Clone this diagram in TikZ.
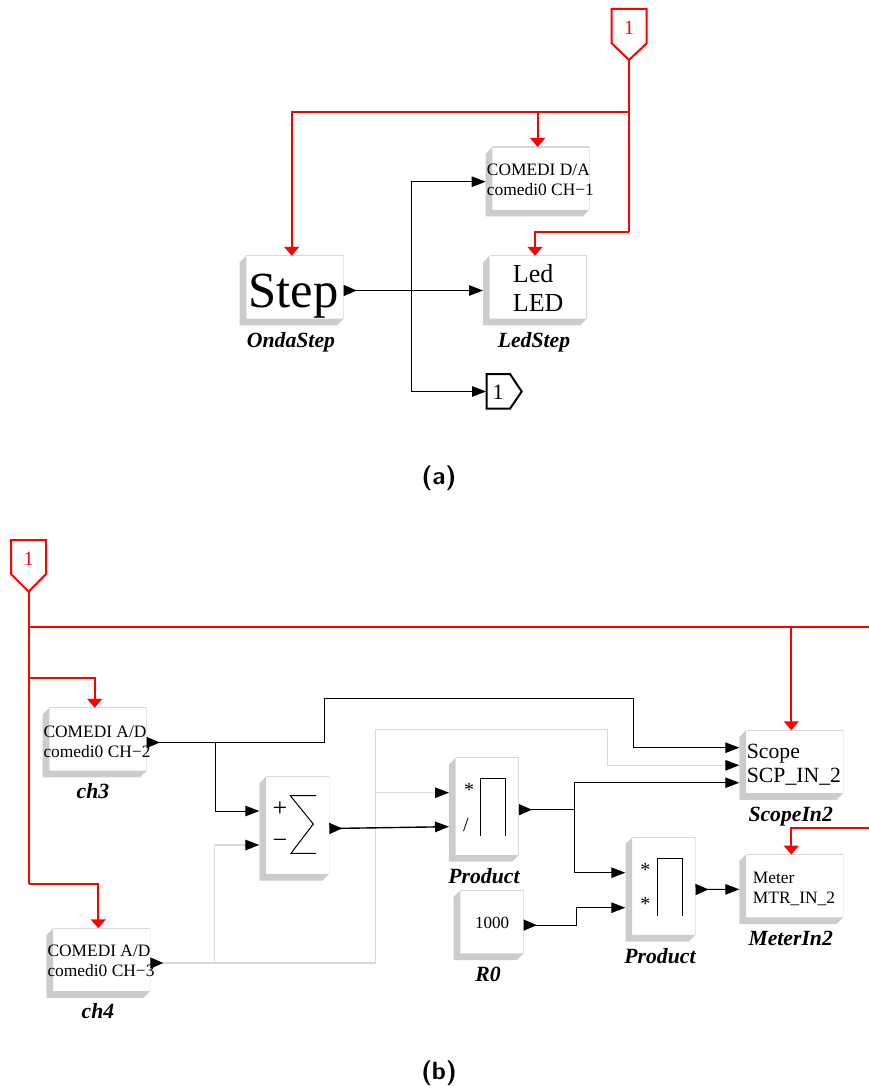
\documentclass[tikz,border=0pt]{standalone}
\usepackage{fontspec}
\setmainfont{Liberation Serif}
\usetikzlibrary{arrows.meta}
\definecolor{shadowgray}{gray}{0.8}
\definecolor{edgegray}{gray}{0.85}
\newcommand{\fsize}[2]{\fontsize{#1}{#2}\selectfont}
\begin{document}
\begin{tikzpicture}[
    x=1pt,y=-1pt,line join=miter,
    simblock/.style={rectangle,inner sep=0,outer sep=0,minimum width=104pt,minimum height=69.5pt,
      path picture={
        \fill[shadowgray] ([xshift=6.7pt]path picture bounding box.north west) -- ++(-6.7,6.7)
          -- (path picture bounding box.south west) -- ([xshift=-6.7pt]path picture bounding box.south east)
          -- ++(6.7,-6.7) -- ([xshift=6.7pt,yshift=6.7pt]path picture bounding box.south west) -- cycle;
        \draw[edgegray,line width=1.2pt] ([xshift=6.7pt]path picture bounding box.north west)
          -- (path picture bounding box.north east) -- ([yshift=6.7pt]path picture bounding box.south east);
      }},
    mathblock/.style={simblock,minimum width=70pt,minimum height=104pt},
    blocktext/.style={anchor=west,inner sep=0,align=left},
    blockname/.style={anchor=base,inner sep=0,font=\fsize{21.7}{24}\bfseries\itshape},
    caption/.style={anchor=base,inner sep=0,font=\fsize{25}{28}\sffamily\bfseries},
    mathsign/.style={inner sep=0,font=\fsize{20}{22}},
    wire/.style={black,line width=1pt,-{Triangle[length=14pt,width=10.5pt]}},
    outwire/.style={black,line width=1pt,{Triangle[reversed,length=13pt,width=11pt]}-},
    outwirein/.style={black,line width=1pt,{Triangle[reversed,length=13pt,width=11pt]}-{Triangle[length=14pt,width=10.5pt]}},
    graywire/.style={edgegray,line width=1.2pt,-{Triangle[black,length=14pt,width=10.5pt]}},
    grayout/.style={edgegray,line width=1.2pt,{Triangle[black,reversed,length=13pt,width=11pt]}-},
    redwire/.style={red,line width=1.7pt,-{Triangle[length=9pt,width=15pt]}},
    redline/.style={red,line width=1.7pt},
    redport/.style={red,line width=2pt},
    blackport/.style={black,line width=2pt}
    ]
    \useasboundingbox (0,0) rectangle (869,1086);

    % part a
    \node[simblock] (step) at (291.7,290.5) {};
    \node[simblock] (da) at (537.7,181.7) {};
    \node[simblock] (led) at (535,290.5) {};
    \node[blocktext,anchor=base west,font=\fsize{50.6}{54}] (steptext) at (248.5,307.5) {Step};
    \node[blocktext,font=\fsize{17.4}{20}] (datext) at (486.7,180) {COMEDI D/A\\comedi0 CH−1};
    \node[blocktext,font=\fsize{26}{29.7}] (ledtext) at (512.7,288) {Led\\LED};
    \node[blockname] (stepname) at (291,347.5) {OndaStep};
    \node[blockname] (ledname) at (534,347.5) {LedStep};

    \draw[redport] (611.7,9) -- (646.7,9) -- (646.7,43.3) -- (629,60) -- (611.7,43.3) -- cycle;
    \node[inner sep=0,text=red,font=\fsize{20}{22}] (inporta) at (629,28) {1};
    \draw[blackport] (486.7,374) -- (510,374) -- (521.7,391.5) -- (510,408.7) -- (486.7,408.7) -- cycle;
    \node[inner sep=0,font=\fsize{22}{24}] (outporta) at (498,392.5) {1};

    \coordinate (tipa) at (629,60);
    \coordinate (jredled) at (629,232);
    \coordinate (jredstep) at (629,112);
    \coordinate (jredda) at (537.7,112);
    \coordinate (jda) at (411,290.5);
    \coordinate (outa) at (486,391.5);
    \draw[redline] (tipa) -- (jredled);
    \draw[redwire] (jredled) -| (led.north);
    \draw[redwire] (jredstep) -| (step.north);
    \draw[redwire] (jredda) -- (da.north);
    \draw[outwirein] (step.east) -- (led.west);
    \draw[wire] (jda) |- (da.west);
    \draw[wire] (jda) |- (outa);

    % part b
    \node[simblock] (ch3) at (94.7,742.5) {};
    \node[simblock] (ch4) at (98.3,963) {};
    \node[mathblock] (sum) at (294.3,828.5) {};
    \node[mathblock] (prodone) at (483.9,809.7) {};
    \node[mathblock] (prodtwo) at (660.5,889.5) {};
    \node[simblock,minimum width=70pt,minimum height=70pt] (r0) at (488.7,925.1) {};
    \node[simblock] (scope) at (791.3,765) {};
    \node[simblock] (meter) at (791.3,889.3) {};

    \node[blocktext,font=\fsize{17.4}{20}] (ch3text) at (43.3,742) {COMEDI A/D\\comedi0 CH−2};
    \node[blocktext,font=\fsize{17.4}{20}] (ch4text) at (47.3,961) {COMEDI A/D\\comedi0 CH−3};
    \node[blocktext,font=\fsize{21.7}{24.4}] (scopetext) at (746.7,765) {Scope\\SCP\_IN\_2};
    \node[blocktext,font=\fsize{17.4}{20.4}] (metertext) at (752.7,889) {Meter\\MTR\_IN\_2};
    \node[blocktext,font=\fsize{17}{20}] (r0text) at (475,922.5) {1000};

    \node[blockname] (ch3name) at (93,798.5) {ch3};
    \node[blockname] (ch4name) at (98,1018.5) {ch4};
    \node[blockname] (prodonename) at (484,883.3) {Product};
    \node[blockname] (prodtwoname) at (660,963.3) {Product};
    \node[blockname] (r0name) at (488,981.7) {R0};
    \node[blockname] (scopename) at (790.7,821.7) {ScopeIn2};
    \node[blockname] (metername) at (790.7,945.7) {MeterIn2};

    \node[mathsign,font=\fsize{26}{28}] (plus) at (280,809) {+};
    \node[mathsign,font=\fsize{26}{28}] (minus) at (280,844) {−};
    \draw[black,line width=1pt] (316,795.7) -- (290.3,795.7) -- (313.3,824) -- (291,853.3) -- (316,853.3);
    \node[mathsign] (stara) at (469,790) {*};
    \node[mathsign] (slash) at (466,825) {/};
    \draw[black,line width=1pt] (480.3,836) -- (480.3,778) -- (505.7,778) -- (505.7,836);
    \node[mathsign] (starb) at (645.3,870) {*};
    \node[mathsign] (starc) at (645.3,903.5) {*};
    \draw[black,line width=1pt] (657.3,916) -- (657.3,858) -- (682.7,858) -- (682.7,916);

    \draw[redport] (11,540) -- (46,540) -- (46,574) -- (28.7,591.7) -- (11,574) -- cycle;
    \node[inner sep=0,text=red,font=\fsize{20}{22}] (inportb) at (28.7,558.5) {1};

    \coordinate (tipb) at (28.7,591.7);
    \coordinate (jbtop) at (28.7,627.3);
    \coordinate (rightend) at (869,627.3);
    \coordinate (jscope) at (791.3,627.3);
    \coordinate (meterend) at (869,827.7);
    \coordinate (jbch3) at (28.7,677.7);
    \coordinate (jbch4) at (28.7,884.3);
    \draw[redline] (tipb) -- (jbch4);
    \draw[redline] (jbtop) -- (rightend);
    \draw[redwire] (jscope) -- (scope.north);
    \draw[redwire] (meterend) -| (meter.north);
    \draw[redwire] (jbch3) -| (ch3.north);
    \draw[redwire] (jbch4) -| (ch4.north);

    \coordinate (sumplus) at (259.3,811);
    \coordinate (summinus) at (259.3,845);
    \coordinate (proda) at (449,792.7);
    \coordinate (prodb) at (449,826.7);
    \coordinate (prodc) at (625.3,872.7);
    \coordinate (prodd) at (625.3,907.7);
    \coordinate (scopea) at (739.3,747.7);
    \coordinate (scopeb) at (739.3,765.3);
    \coordinate (scopec) at (739.3,782.7);
    \coordinate (jch3) at (215.3,742.5);
    \coordinate (jch4) at (214.3,963);
    \coordinate (chup) at (324.3,698.3);
    \coordinate (chdown) at (633.7,698.3);
    \coordinate (graya) at (375.3,729.3);
    \coordinate (grayb) at (607.3,729.3);
    \coordinate (grayc) at (375.3,792.7);
    \coordinate (jprod) at (574,809.7);
    \coordinate (jr0) at (576.7,925.1);

    \draw[outwire] (ch3.east) -- (jch3);
    \draw[wire] (jch3) |- (sumplus);
    \draw[wire] (jch3) -| (chup) -- (chdown) |- (scopea);
    \draw[graywire] (jch4) -| (graya) -- (grayb) |- (scopeb);
    \draw[grayout] (ch4.east) -- (jch4);
    \draw[graywire] (jch4) |- (summinus);
    \draw[graywire] (grayc) -- (proda);
    \draw[outwirein,line width=1.4pt] (sum.east) -- (prodb);
    \draw[outwire] (prodone.east) -- (jprod);
    \draw[wire] (jprod) |- (scopec);
    \draw[wire] (jprod) |- (prodc);
    \draw[outwire] (r0.east) -- (jr0);
    \draw[wire] (jr0) |- (prodd);
    \draw[outwirein] (prodtwo.east) -- (meter.west);

    \node[caption] (capa) at (439,484) {(a)};
    \node[caption] (capb) at (439,1079) {(b)};
  \end{tikzpicture}
\end{document}
